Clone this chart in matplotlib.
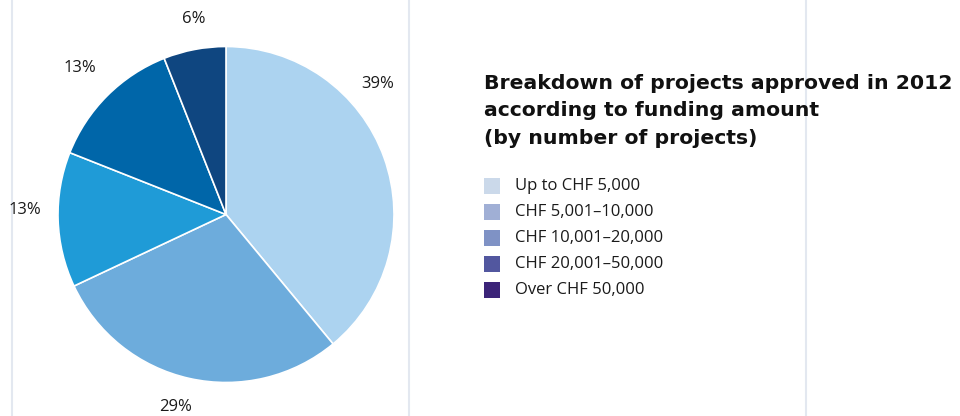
import matplotlib
matplotlib.use("Agg")
import matplotlib.pyplot as plt
import numpy as np
from matplotlib.patches import Rectangle

# ---- data ----
categories = ["Up to CHF 5,000", "CHF 5,001\u201310,000", "CHF 10,001\u201320,000",
              "CHF 20,001\u201350,000", "Over CHF 50,000"]
values = [39, 29, 13, 13, 6]
pct_labels = ["39%", "29%", "13%", "13%", "6%"]
title_text = "Breakdown of projects approved in 2012\naccording to funding amount\n(by number of projects)"

# ---- styles ----
pie_colors = ["#acd3f0", "#6dacdc", "#1f9bd7", "#0066a9", "#0f4680"]
legend_colors = ["#cbd9ea", "#a0afd5", "#7f92c5", "#52579f", "#3c2479"]
label_angle_shift = [21, -2, -3.2, 0, -1.5]
label_radius = [200, 199, 201, 207, 198]

W, H = 960, 416
fig = plt.figure(figsize=(W / 100, H / 100), dpi=100)
ax = fig.add_axes([0, 0, 1, 1])

cx, cy, R = 226, H - 214.5, 168
wedges, _ = ax.pie(values, colors=pie_colors, startangle=90, counterclock=False,
                   center=(cx, cy), radius=R,
                   wedgeprops=dict(edgecolor="white", linewidth=1.2))

ax.set_xlim(0, W)
ax.set_ylim(0, H)
ax.set_aspect("equal")
ax.axis("off")

for xv in [12, 409, 806]:
    ax.axvline(xv, color="#e3e8f0", lw=1.5, zorder=0)

fam = ["Open Sans", "DejaVu Sans"]
for w, lab, sh, r in zip(wedges, pct_labels, label_angle_shift, label_radius):
    ang = np.deg2rad((w.theta1 + w.theta2) / 2 + sh)
    ax.text(cx + r * np.cos(ang), cy + r * np.sin(ang), lab, ha="center", va="center",
            fontsize=12, color="#1a1a1a", family=fam)

ax.text(484, H - 74, title_text, ha="left", va="top", fontsize=14.7, fontweight="bold",
        color="#111111", family=["DejaVu Sans"], linespacing=1.56)

for i, (cat, col) in enumerate(zip(categories, legend_colors)):
    yc = H - (186 + 26 * i)
    ax.add_patch(Rectangle((484, yc - 8), 16, 16, facecolor=col, edgecolor="none"))
    ax.text(515, yc, cat, ha="left", va="center", fontsize=12, color="#1a1a1a", family=fam)

fig.savefig("out.png", dpi=100)
